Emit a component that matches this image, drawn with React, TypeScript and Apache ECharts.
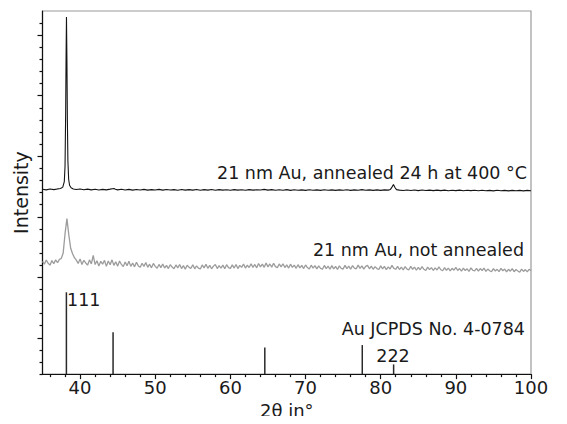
import React, { useEffect, useRef } from "react";
import * as echarts from "echarts";

// 2θ (degrees) and intensity (arbitrary, stacked offsets)
const annealed: [number, number][] = [
  [35, 15.27], [35.5, 15.22], [36, 15.29], [36.5, 15.24], [37, 15.3], [37.4, 15.33],
  [37.7, 15.45], [37.9, 15.9], [38.0, 17.2], [38.08, 21.5], [38.14, 26.5], [38.19, 29.5],
  [38.25, 26.0], [38.31, 21.0], [38.38, 17.6], [38.48, 16.1], [38.6, 15.6], [38.8, 15.4],
  [39.1, 15.3], [39.5, 15.25], [40, 15.3], [40.5, 15.23], [41, 15.28], [41.5, 15.22],
  [42, 15.27], [42.5, 15.21], [43, 15.26], [43.5, 15.22], [44, 15.28], [44.3, 15.32],
  [44.5, 15.34], [44.7, 15.27], [45, 15.22], [45.5, 15.27], [46, 15.21], [46.5, 15.26],
  [47, 15.2], [47.5, 15.25], [48, 15.21], [48.5, 15.26], [49, 15.2], [49.5, 15.24],
  [50, 15.21], [50.5, 15.26], [51, 15.2], [51.5, 15.25], [52, 15.21], [52.5, 15.24],
  [53, 15.19], [53.5, 15.25], [54, 15.2], [54.5, 15.24], [55, 15.2], [55.5, 15.25],
  [56, 15.19], [56.5, 15.24], [57, 15.2], [57.5, 15.25], [58, 15.19], [58.5, 15.24],
  [59, 15.2], [59.5, 15.23], [60, 15.19], [60.5, 15.24], [61, 15.2], [61.5, 15.23],
  [62, 15.19], [62.5, 15.24], [63, 15.2], [63.5, 15.23], [64, 15.21], [64.5, 15.26],
  [65, 15.2], [65.5, 15.24], [66, 15.19], [66.5, 15.23], [67, 15.19], [67.5, 15.24],
  [68, 15.18], [68.5, 15.23], [69, 15.19], [69.5, 15.22], [70, 15.18], [70.5, 15.23],
  [71, 15.19], [71.5, 15.22], [72, 15.18], [72.5, 15.23], [73, 15.19], [73.5, 15.22],
  [74, 15.18], [74.5, 15.22], [75, 15.19], [75.5, 15.23], [76, 15.18], [76.5, 15.22],
  [77, 15.19], [77.5, 15.24], [78, 15.19], [78.5, 15.22], [79, 15.18], [79.5, 15.22],
  [80, 15.18], [80.5, 15.22], [81, 15.2], [81.3, 15.26], [81.5, 15.45], [81.7, 15.66],
  [81.9, 15.42], [82.1, 15.24], [82.5, 15.2], [83, 15.17], [83.5, 15.21], [84, 15.17],
  [84.5, 15.21], [85, 15.16], [85.5, 15.21], [86, 15.17], [86.5, 15.2], [87, 15.16],
  [87.5, 15.2], [88, 15.16], [88.5, 15.2], [89, 15.15], [89.5, 15.19], [90, 15.16],
  [90.5, 15.2], [91, 15.15], [91.5, 15.19], [92, 15.16], [92.5, 15.19], [93, 15.15],
  [93.5, 15.19], [94, 15.15], [94.5, 15.18], [95, 15.14], [95.5, 15.19], [96, 15.15],
  [96.5, 15.18], [97, 15.14], [97.5, 15.18], [98, 15.15], [98.5, 15.18], [99, 15.14],
  [99.5, 15.18], [100, 15.15]
];

// not annealed: measured on a 0.25° grid starting at 35°
const notAnnealedStart = 35;
const notAnnealedStep = 0.25;
const notAnnealedValues = [
  9.32, 9.08, 9.42, 9.16, 9.0, 9.38, 9.12, 9.44,
  9.2, 9.48, 9.55, 10.0, 11.6, 12.85, 11.5, 10.4,
  9.95, 9.62, 9.42, 9.14, 9.52, 9.05, 9.4, 9.18,
  9.0, 9.44, 9.1, 9.8, 9.05, 9.36, 8.92, 9.32,
  9.08, 9.4, 8.9, 9.34, 9.04, 9.44, 8.98, 9.28,
  8.92, 9.34, 9.06, 8.88, 9.26, 8.96, 9.32, 8.9,
  9.18, 8.86, 9.24, 8.94, 8.82, 9.16, 8.9, 9.22,
  8.82, 9.08, 8.78, 9.14, 8.9, 8.74, 9.06, 8.8,
  9.1, 8.76, 8.98, 8.72, 9.04, 8.84, 8.7, 9.02,
  8.78, 9.06, 8.72, 8.96, 8.66, 9.0, 8.82, 8.74,
  9.04, 8.7, 8.94, 8.76, 8.68, 9.02, 8.78, 9.08,
  8.74, 8.98, 8.7, 8.92, 9.06, 8.72, 8.96, 8.76,
  9.0, 8.7, 9.04, 8.8, 8.74, 9.02, 8.76, 9.06,
  8.72, 8.98, 8.82, 9.1, 8.76, 9.0, 8.8, 9.12,
  8.82, 9.06, 8.78, 9.14, 8.86, 9.08, 8.82, 9.18,
  8.86, 9.1, 8.84, 9.16, 8.88, 8.8, 9.1, 8.86,
  9.12, 8.8, 9.02, 8.76, 9.08, 8.82, 9.0, 8.74,
  9.04, 8.78, 8.98, 8.72, 9.02, 8.8, 8.68, 9.0,
  8.76, 8.96, 8.7, 8.94, 8.74, 8.66, 8.98, 8.72,
  8.92, 8.66, 8.96, 8.7, 8.9, 8.64, 8.94, 8.74,
  8.68, 8.98, 8.72, 8.92, 8.66, 8.96, 8.76, 8.7,
  9.0, 8.74, 8.94, 8.68, 8.9, 8.98, 8.7, 8.92,
  8.66, 8.88, 8.72, 8.64, 8.94, 8.7, 8.9, 8.62,
  8.86, 8.68, 8.98, 8.74, 8.66, 8.9, 8.64, 8.84,
  8.6, 8.88, 8.68, 8.62, 8.9, 8.66, 8.84, 8.58,
  8.82, 8.62, 8.88, 8.66, 8.56, 8.84, 8.64, 8.8,
  8.56, 8.78, 8.6, 8.86, 8.62, 8.54, 8.8, 8.58,
  8.76, 8.52, 8.74, 8.58, 8.82, 8.56, 8.72, 8.5,
  8.76, 8.56, 8.7, 8.48, 8.78, 8.58, 8.52, 8.74,
  8.5, 8.72, 8.56, 8.76, 8.48, 8.68, 8.54, 8.46,
  8.72, 8.52, 8.66, 8.46, 8.74, 8.54, 8.68, 8.44,
  8.66, 8.5, 8.72, 8.46, 8.64, 8.52, 8.42, 8.68,
  8.48, 8.64, 8.44, 8.66,
  8.55
];

// Au JCPDS No. 4-0784 reference lines: position and stick height (axis units)
const refPositions = [38.18, 44.39, 64.58, 77.55, 81.72];
const refHeights = [6.76, 3.45, 2.2, 2.4, 0.8];

const xMajorTicks = [40, 50, 60, 70, 80, 90, 100];
const xMinorTicks = [36, 38, 42, 44, 46, 48, 52, 54, 56, 58, 62, 64, 66, 68, 72, 74, 76, 78, 82, 84, 86, 88, 92, 94, 96, 98];
const yMajorTicks = [3, 8, 13, 18, 23, 28];
const yMinorTicks = [0, 1, 2, 4, 5, 6, 7, 9, 10, 11, 12, 14, 15, 16, 17, 19, 20, 21, 22, 24, 25, 26, 27, 29];

const FONT = "DejaVu Sans";

export default function App() {
  const ref = useRef<HTMLDivElement>(null);
  useEffect(() => {
    if (!ref.current) return;
    const chart = echarts.init(ref.current, undefined, { renderer: "svg" });
    const axisLineStyle = { color: "#111", width: 1.2 };
    const notAnnealed = notAnnealedValues.map((v, i) => [notAnnealedStart + i * notAnnealedStep, v]);
    const annoStyle = { fontFamily: FONT, fontSize: 17.5, fill: "#1a1a1a" };
    chart.setOption({
      animation: false,
      grid: {
        left: 42.5,
        right: 36,
        top: 11,
        bottom: 49,
        show: true,
        borderColor: "#9a9a9a",
        borderWidth: 1.2,
        backgroundColor: "transparent",
      },
      xAxis: [
        {
          type: "value",
          min: 35,
          max: 100,
          position: "bottom",
          axisLine: { show: true, lineStyle: axisLineStyle },
          axisTick: { show: true, customValues: xMajorTicks, length: 5, lineStyle: axisLineStyle },
          axisLabel: {
            show: true,
            customValues: xMajorTicks,
            fontFamily: FONT,
            fontSize: 18,
            color: "#1a1a1a",
            margin: 4,
          },
          splitLine: { show: false },
          name: "2θ in°",
          nameLocation: "middle",
          nameGap: 25,
          nameTextStyle: { fontFamily: FONT, fontSize: 18, color: "#1a1a1a" },
        },
        {
          type: "value",
          min: 35,
          max: 100,
          position: "bottom",
          axisLine: { show: false },
          axisTick: { show: true, customValues: xMinorTicks, length: 3, lineStyle: axisLineStyle },
          axisLabel: { show: false },
          splitLine: { show: false },
        },
      ],
      yAxis: [
        {
          type: "value",
          min: 0,
          max: 30,
          position: "left",
          axisLine: { show: true, lineStyle: axisLineStyle },
          axisTick: { show: true, customValues: yMajorTicks, length: 5, lineStyle: axisLineStyle },
          axisLabel: { show: false },
          splitLine: { show: false },
          name: "Intensity",
          nameLocation: "middle",
          nameGap: 12,
          nameTextStyle: { fontFamily: FONT, fontSize: 19, color: "#1a1a1a" },
        },
        {
          type: "value",
          min: 0,
          max: 30,
          position: "left",
          axisLine: { show: false },
          axisTick: { show: true, customValues: yMinorTicks, length: 3, lineStyle: axisLineStyle },
          axisLabel: { show: false },
          splitLine: { show: false },
        },
      ],
      series: [
        {
          type: "line",
          data: notAnnealed,
          showSymbol: false,
          symbol: "none",
          lineStyle: { color: "#9c9c9c", width: 1.3 },
          z: 2,
        },
        {
          type: "line",
          data: annealed,
          showSymbol: false,
          symbol: "none",
          lineStyle: { color: "#151515", width: 1.1 },
          z: 3,
        },
        {
          type: "bar",
          data: refPositions.map((p, i) => [p, refHeights[i]]),
          barWidth: 1.5,
          itemStyle: { color: "#2a2a2a" },
          z: 3,
        },
      ],
      graphic: [
        {
          type: "text",
          x: 527,
          y: 173,
          style: { ...annoStyle, text: "21 nm Au, annealed 24 h at 400 °C", align: "right", verticalAlign: "middle" },
        },
        {
          type: "text",
          x: 524,
          y: 250,
          style: { ...annoStyle, text: "21 nm Au, not annealed", align: "right", verticalAlign: "middle" },
        },
        {
          type: "text",
          x: 67,
          y: 300,
          style: { ...annoStyle, text: "111", align: "left", verticalAlign: "middle" },
        },
        {
          type: "text",
          x: 525,
          y: 329,
          style: { ...annoStyle, text: "Au JCPDS No. 4-0784", align: "right", verticalAlign: "middle" },
        },
        {
          type: "text",
          x: 393,
          y: 356,
          style: { ...annoStyle, text: "222", align: "center", verticalAlign: "middle" },
        },
      ],
    });
    return () => chart.dispose();
  }, []);
  return <div ref={ref} style={{ width: 567, height: 424, margin: -8 }} />;
}
